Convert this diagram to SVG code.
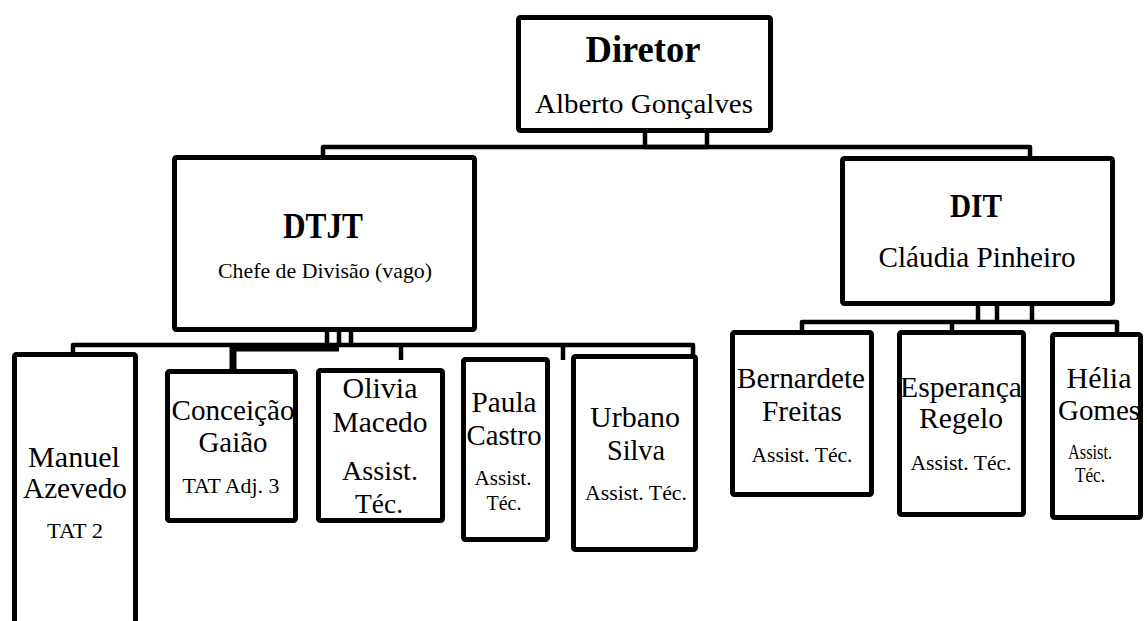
<svg xmlns="http://www.w3.org/2000/svg" width="1147" height="621" viewBox="0 0 1147 621">
<style>
.box{fill:#fff;stroke:#000;stroke-width:5;stroke-linejoin:round}
.con{fill:none;stroke:#000;stroke-width:4.5;stroke-linejoin:round;stroke-linecap:butt}
text{font-family:"Liberation Serif","Times New Roman",serif;fill:#000;text-anchor:middle}
.b{font-weight:bold}
</style>
<rect width="1147" height="621" fill="#fff"/>
<g id="connectors">
<path class="con" d="M323,155 V147 H1030 V156"/>
<path class="con" d="M645,133 V147 H707 V133"/>
<path class="con" d="M327,332 V345 M339,332 V345 M351,332 V345"/>
<path class="con" d="M73,352 V345 H693 V354"/>
<path class="con" d="M233,369 V348 H339" style="stroke-width:7"/>
<path class="con" d="M401,345 V360 M563,345 V360"/>
<path class="con" d="M978,306 V322 M997,306 V322 M1032,306 V322"/>
<path class="con" d="M802,330 V322 H1117 V332 M952,322 V330"/>
</g>
<g id="diretor">
<rect class="box" x="518.5" y="17.5" width="252" height="113" rx="2"/>
<text class="b" x="643" y="62" font-size="38" textLength="115" lengthAdjust="spacingAndGlyphs">Diretor</text>
<text x="644" y="113" font-size="27" textLength="218" lengthAdjust="spacingAndGlyphs">Alberto Gonçalves</text>
</g>
<g id="dtjt">
<rect class="box" x="174.5" y="157.5" width="300" height="172" rx="2"/>
<text class="b" x="323" y="238" font-size="35" textLength="80" lengthAdjust="spacingAndGlyphs">DTJT</text>
<text x="325" y="278" font-size="21" textLength="214" lengthAdjust="spacingAndGlyphs">Chefe de Divisão (vago)</text>
</g>
<g id="dit">
<rect class="box" x="842.5" y="158.5" width="270" height="145" rx="2"/>
<text class="b" x="976" y="217" font-size="34" textLength="52" lengthAdjust="spacingAndGlyphs">DIT</text>
<text x="977" y="267" font-size="29" textLength="197" lengthAdjust="spacingAndGlyphs">Cláudia Pinheiro</text>
</g>
<g id="manuel">
<rect class="box" x="14.5" y="354.5" width="121" height="300" rx="2"/>
<text x="74" y="467" font-size="29" textLength="92" lengthAdjust="spacingAndGlyphs">Manuel</text>
<text x="75" y="498" font-size="29" textLength="104" lengthAdjust="spacingAndGlyphs">Azevedo</text>
<text x="75" y="538" font-size="21" textLength="56" lengthAdjust="spacingAndGlyphs">TAT 2</text>
</g>
<g id="conceicao">
<rect class="box" x="167.5" y="371.5" width="128" height="149" rx="2"/>
<text x="233" y="420" font-size="29" textLength="123" lengthAdjust="spacingAndGlyphs">Conceição</text>
<text x="233" y="452" font-size="29" textLength="69" lengthAdjust="spacingAndGlyphs">Gaião</text>
<text x="231" y="493" font-size="21" textLength="97" lengthAdjust="spacingAndGlyphs">TAT Adj. 3</text>
</g>
<g id="olivia">
<rect class="box" x="318.5" y="370.5" width="124" height="150" rx="2"/>
<text x="380" y="398" font-size="30" textLength="75" lengthAdjust="spacingAndGlyphs">Olivia</text>
<text x="380" y="432" font-size="30" textLength="95" lengthAdjust="spacingAndGlyphs">Macedo</text>
<text x="380" y="480" font-size="28" textLength="76" lengthAdjust="spacingAndGlyphs">Assist.</text>
<text x="379" y="513" font-size="28" textLength="48" lengthAdjust="spacingAndGlyphs">Téc.</text>
</g>
<g id="paula">
<rect class="box" x="463.5" y="359.5" width="84" height="180" rx="2"/>
<text x="504" y="412" font-size="29" textLength="65" lengthAdjust="spacingAndGlyphs">Paula</text>
<text x="504" y="445" font-size="29" textLength="75" lengthAdjust="spacingAndGlyphs">Castro</text>
<text x="503" y="485" font-size="21" textLength="57" lengthAdjust="spacingAndGlyphs">Assist.</text>
<text x="504" y="510" font-size="21" textLength="35" lengthAdjust="spacingAndGlyphs">Téc.</text>
</g>
<g id="urbano">
<rect class="box" x="573.5" y="356.5" width="122" height="193" rx="2"/>
<text x="635" y="427" font-size="30" textLength="90" lengthAdjust="spacingAndGlyphs">Urbano</text>
<text x="636" y="460" font-size="30" textLength="58" lengthAdjust="spacingAndGlyphs">Silva</text>
<text x="636" y="500" font-size="21" textLength="102" lengthAdjust="spacingAndGlyphs">Assist. Téc.</text>
</g>
<g id="bernardete">
<rect class="box" x="732.5" y="332.5" width="139" height="162" rx="2"/>
<text x="801" y="388" font-size="29" textLength="128" lengthAdjust="spacingAndGlyphs">Bernardete</text>
<text x="802" y="421" font-size="29" textLength="80" lengthAdjust="spacingAndGlyphs">Freitas</text>
<text x="802" y="462" font-size="21" textLength="101" lengthAdjust="spacingAndGlyphs">Assist. Téc.</text>
</g>
<g id="esperanca">
<rect class="box" x="899.5" y="332.5" width="124" height="182" rx="2"/>
<text x="961" y="397" font-size="29" textLength="122" lengthAdjust="spacingAndGlyphs">Esperança</text>
<text x="961" y="428" font-size="29" textLength="84" lengthAdjust="spacingAndGlyphs">Regelo</text>
<text x="961" y="470" font-size="21" textLength="101" lengthAdjust="spacingAndGlyphs">Assist. Téc.</text>
</g>
<g id="helia">
<rect class="box" x="1052.5" y="334.5" width="88" height="183" rx="2"/>
<text x="1099" y="388" font-size="29" textLength="65" lengthAdjust="spacingAndGlyphs">Hélia</text>
<text x="1099" y="420" font-size="29" textLength="82" lengthAdjust="spacingAndGlyphs">Gomes</text>
<text x="1090" y="459" font-size="20" textLength="44" lengthAdjust="spacingAndGlyphs">Assist.</text>
<text x="1090" y="482" font-size="20" textLength="30" lengthAdjust="spacingAndGlyphs">Téc.</text>
</g>
</svg>
